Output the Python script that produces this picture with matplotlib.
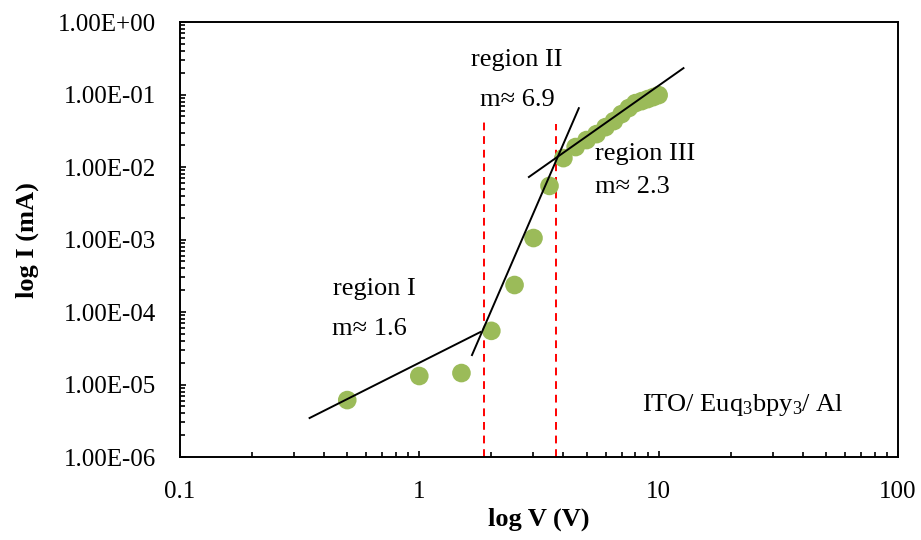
import numpy as np
import matplotlib
matplotlib.use("Agg")
import matplotlib.pyplot as plt
from matplotlib.ticker import FuncFormatter, LogLocator, NullFormatter

plt.rcParams['font.family'] = ['Liberation Serif', 'DejaVu Serif']
plt.rcParams['mathtext.fontset'] = 'custom'
plt.rcParams['mathtext.rm'] = 'Liberation Serif'
plt.rcParams['mathtext.it'] = 'Liberation Serif:italic'

# measured I-V points
voltage = [0.5, 1.0, 1.5, 2.0, 2.5, 3.0, 3.5, 4.0, 4.5, 5.0, 5.5, 6.0,
           6.5, 7.0, 7.5, 8.0, 8.5, 9.0, 9.5, 10.0]
current = [6.1e-6, 1.31e-5, 1.44e-5, 5.5e-5, 2.36e-4, 1.05e-3, 5.5e-3, 1.33e-2,
           1.89e-2, 2.36e-2, 2.85e-2, 3.56e-2, 4.31e-2, 5.38e-2, 6.52e-2,
           7.63e-2, 8.13e-2, 8.67e-2, 9.24e-2, 9.85e-2]

# power-law fit segments (end points, V and I)
fit1_v = [0.348, 1.80]
fit1_i = [3.45e-6, 5.3e-5]
fit2_v = [1.66, 4.64]
fit2_i = [2.55e-5, 6.5e-2]
fit3_v = [2.87, 12.7]
fit3_i = [7.3e-3, 2.32e-1]

# region boundaries
bound_v = [1.87, 3.72]
bound_top = [4.2e-2, 3.9e-2]

regions = ["region I", "region II", "region III"]
slopes = ["m\u2248 1.6", "m\u2248 6.9", "m\u2248 2.3"]
region_xy = [(0.649, 2.07e-4), (2.56, 0.299), (8.74, 0.0151)]
slope_xy = [(0.619, 5.8e-5), (2.56, 0.084), (7.79, 0.0053)]

fig = plt.figure(figsize=(9.21, 5.4), dpi=100)
ax = fig.add_axes([0.1954, 0.1537, 0.7796, 0.8053])

ax.scatter(voltage, current, s=180, color='#9BBB59', edgecolors='none', zorder=2)

for fv, fi in [(fit1_v, fit1_i), (fit2_v, fit2_i), (fit3_v, fit3_i)]:
    ax.plot(fv, fi, color='black', lw=1.4, zorder=3)

for bv, bt in zip(bound_v, bound_top):
    ax.plot([bv, bv], [1e-6, bt], color='red', lw=1.4, ls=(0, (4, 3)), zorder=1)

for txt, (x, y) in zip(regions, region_xy):
    ax.text(x, y, txt, ha='center', va='center', fontsize=19)
for txt, (x, y) in zip(slopes, slope_xy):
    ax.text(x, y, txt, ha='center', va='center', fontsize=19)
ax.text(22.6, 5.2e-6, "ITO/ Euq$_3$bpy$_3$/ Al", ha='center', va='center', fontsize=19)

ax.set_xscale('log')
ax.set_yscale('log')
ax.set_xlim(0.1, 100)
ax.set_ylim(1e-6, 1)

ax.xaxis.set_major_locator(LogLocator(base=10, numticks=10))
ax.xaxis.set_minor_locator(LogLocator(base=10, subs=np.arange(2, 10), numticks=20))
ax.yaxis.set_major_locator(LogLocator(base=10, numticks=10))
ax.yaxis.set_minor_locator(LogLocator(base=10, subs=np.arange(2, 10), numticks=20))
ax.xaxis.set_major_formatter(FuncFormatter(lambda v, p: f"{v:g}"))
ax.yaxis.set_major_formatter(FuncFormatter(lambda v, p: f"{v:.2E}"))
ax.xaxis.set_minor_formatter(NullFormatter())
ax.yaxis.set_minor_formatter(NullFormatter())

ax.tick_params(which='both', direction='in', top=False, right=False,
               width=1.2, labelsize=18, pad=17)
ax.tick_params(which='major', length=4.5)
ax.tick_params(which='minor', length=3.5)
for sp in ax.spines.values():
    sp.set_linewidth(1.4)

ax.set_xlabel("log V (V)", fontsize=19, fontweight='bold')
ax.set_ylabel("log I (mA)", fontsize=19, fontweight='bold')
ax.xaxis.set_label_coords(0.5, -0.143)
ax.yaxis.set_label_coords(-0.212, 0.5)
ax.xaxis.label.set_va('center')
ax.yaxis.label.set_va('center')

fig.savefig("out.png", dpi=100)
